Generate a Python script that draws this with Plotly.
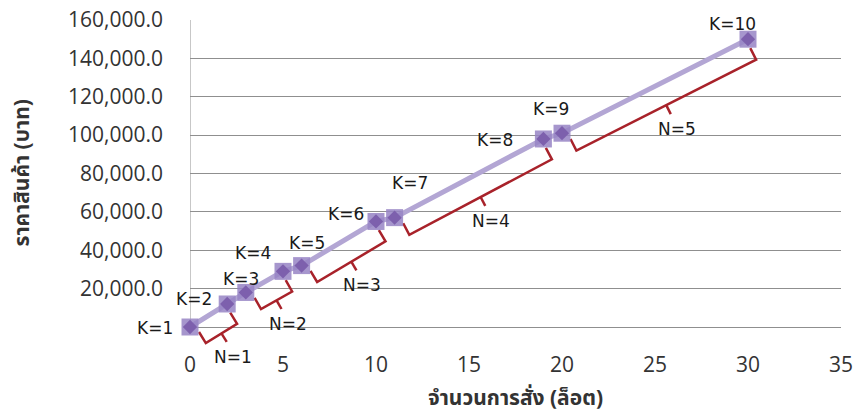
import math
import plotly.graph_objects as go

# ---------------- data ----------------
k_labels = ["K=1", "K=2", "K=3", "K=4", "K=5", "K=6", "K=7", "K=8", "K=9", "K=10"]
lots = [0, 2, 3, 5, 6, 10, 11, 19, 20, 30]
price = [0, 12000, 18000, 29000, 32000, 55000, 57000, 98000, 101000, 150000]

n_labels = ["N=1", "N=2", "N=3", "N=4", "N=5"]
bracket_from_k = [1, 3, 5, 7, 9]
bracket_to_k = [2, 4, 6, 8, 10]

y_tick_vals = [0, 20000, 40000, 60000, 80000, 100000, 120000, 140000, 160000]
y_tick_text = ["", "20,000.0", "40,000.0", "60,000.0", "80,000.0",
               "100,000.0", "120,000.0", "140,000.0", "160,000.0"]
x_tick_vals = [0, 5, 10, 15, 20, 25, 30, 35]

x_title = "จำนวนการสั่ง (ล็อต)"
y_title = "ราคาสินค้า (บาท)"

# ---------------- layout geometry / style ----------------
W, H = 859, 416
ML, MR, MT, MB = 190, 18, 20, 66
X_MIN, X_MAX = 0, 35
Y_TOP = 160000
Y_BOTTOM = -Y_TOP * 23 / 307
plot_w = W - ML - MR
plot_h = H - MT - MB
px_x = plot_w / (X_MAX - X_MIN)
px_y = plot_h / (Y_TOP - Y_BOTTOM)

# K label offsets (screen px, right / down) relative to their point
k_label_offsets = [(-35, 1), (-33, -5), (-5, -13), (-30, -18), (5, -23),
                   (-30, -7), (15, -35), (-48, 1), (-11, -24), (-16, -15)]

TICK_FONT = dict(family="Open Sans, sans-serif", size=21, color="#333333")
LABEL_FONT = dict(family="DejaVu Sans, sans-serif", size=17, color="#1a1a1a")
THAI_FONT = "Noto Sans Thai, Tahoma, Noto Sans, sans-serif"
GRID = "#8f8f8f"
LINE_COLOR = "#b3a6d4"
SQ_COLOR = "rgba(150,132,196,0.85)"
DIA_COLOR = "#7d60ad"
BRACKET_COLOR = "#a8222a"


def to_screen(x, y):
    return (x * px_x, -y * px_y)


def to_data(sx, sy):
    return (sx / px_x, -sy / px_y)


fig = go.Figure()

# connecting line
fig.add_trace(go.Scatter(x=lots, y=price, mode="lines",
                         line=dict(color=LINE_COLOR, width=5),
                         hoverinfo="skip", showlegend=False))

# brackets
bx, by = [], []
n_pos = []
for a, b in zip(bracket_from_k, bracket_to_k):
    pa = to_screen(lots[a - 1], price[a - 1])
    pb = to_screen(lots[b - 1], price[b - 1])
    dx, dy = pb[0] - pa[0], pb[1] - pa[1]
    L = math.hypot(dx, dy)
    u = (dx / L, dy / L)
    n = (-u[1], u[0])

    def pt(p, du, dn):
        return (p[0] + u[0] * du + n[0] * dn, p[1] + u[1] * du + n[1] * dn)

    s_top = pt(pa, 5, 9)
    s_base = pt(pa, 5, 22)
    e_base = pt(pb, -2, 22)
    e_top = pt(pb, -2, 9)
    mid = ((s_base[0] + e_base[0]) / 2, (s_base[1] + e_base[1]) / 2)
    tip = (mid[0] + n[0] * 10, mid[1] + n[1] * 10)
    for p in (s_top, s_base, e_base, e_top):
        d = to_data(*p)
        bx.append(d[0]); by.append(d[1])
    bx.append(None); by.append(None)
    for p in (mid, tip):
        d = to_data(*p)
        bx.append(d[0]); by.append(d[1])
    bx.append(None); by.append(None)
    n_pos.append(to_data(*tip))

fig.add_trace(go.Scatter(x=bx, y=by, mode="lines",
                         line=dict(color=BRACKET_COLOR, width=2.5),
                         hoverinfo="skip", showlegend=False))

# markers: light square with darker diamond
fig.add_trace(go.Scatter(x=lots, y=price, mode="markers",
                         marker=dict(symbol="square", size=17, color=SQ_COLOR,
                                     line=dict(width=0)),
                         cliponaxis=False, showlegend=False))
fig.add_trace(go.Scatter(x=lots, y=price, mode="markers",
                         marker=dict(symbol="diamond", size=11, color=DIA_COLOR,
                                     line=dict(width=0)),
                         cliponaxis=False, showlegend=False))

annotations = []
for lbl, x, y, (ox, oy) in zip(k_labels, lots, price, k_label_offsets):
    annotations.append(dict(x=x, y=y, xref="x", yref="y", text=lbl,
                            showarrow=False, xanchor="center", yanchor="middle",
                            xshift=ox, yshift=-oy, font=LABEL_FONT))
for lbl, (x, y) in zip(n_labels, n_pos):
    annotations.append(dict(x=x, y=y, xref="x", yref="y", text=lbl,
                            showarrow=False, xanchor="center", yanchor="middle",
                            xshift=6, yshift=-15, font=LABEL_FONT))

# y-axis title, centred on the 0..160,000 span
annotations.append(dict(x=0, y=Y_TOP / 2, xref="paper", yref="y",
                        text="<b>" + y_title + "</b>", textangle=-90,
                        showarrow=False, xanchor="center", yanchor="middle",
                        xshift=-168,
                        font=dict(family=THAI_FONT, size=21, color="#333333")))

shapes = [dict(type="line", xref="x", yref="y", x0=0, x1=0, y0=0, y1=Y_TOP,
               line=dict(color=GRID, width=1), layer="below")]

fig.update_layout(
    width=W, height=H,
    margin=dict(l=ML, r=MR, t=MT, b=MB, autoexpand=False),
    paper_bgcolor="white", plot_bgcolor="white",
    showlegend=False,
    annotations=annotations,
    shapes=shapes,
    xaxis=dict(range=[X_MIN, X_MAX], tickvals=x_tick_vals, automargin=False,
               showgrid=False, zeroline=False, showline=False,
               ticks="", tickfont=TICK_FONT,
               title=dict(text="<b>" + x_title + "</b>", standoff=13,
                          font=dict(family=THAI_FONT, size=21, color="#333333"))),
    yaxis=dict(range=[Y_BOTTOM, Y_TOP], tickvals=y_tick_vals, ticktext=y_tick_text,
               automargin=False,
               showgrid=True, gridcolor=GRID, gridwidth=1,
               zeroline=False, showline=False, ticks="",
               ticklabelstandoff=26, tickfont=TICK_FONT),
)

fig.write_html("out.html", config={"displayModeBar": False},
               post_script="document.body.style.margin='0';document.body.style.overflow='hidden';")
